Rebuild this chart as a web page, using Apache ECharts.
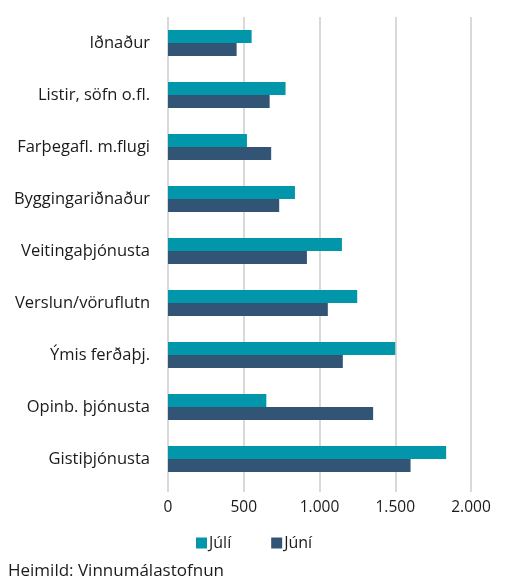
<!DOCTYPE html>
<html>
<head>
<meta charset="utf-8">
<script src="https://cdn.jsdelivr.net/npm/echarts@6/dist/echarts.min.js"></script>
<style>
  html, body { margin: 0; padding: 0; background: #fff; }
  #chart { width: 507px; height: 583px; }
</style>
</head>
<body>
<div id="chart"></div>
<script>
// flokkar, ofan frá og niður
var categories = ['Iðnaður', 'Listir, söfn o.fl.', 'Farþegafl. m.flugi', 'Byggingariðnaður',
  'Veitingaþjónusta', 'Verslun/vöruflutn', 'Ýmis ferðaþj.', 'Opinb. þjónusta', 'Gistiþjónusta'];
var juli = [552, 776, 521, 838, 1148, 1249, 1500, 649, 1836];
var juni = [453, 671, 681, 734, 917, 1055, 1154, 1354, 1601];
var xTicks = [0, 500, 1000, 1500, 2000];

var font = 'Open Sans';
var chart = echarts.init(document.getElementById('chart'));

function fmt(v) {
  return String(v).replace(/\B(?=(\d{3})+(?!\d))/g, '.');
}

var option = {
  animation: false,
  textStyle: { fontFamily: font },
  grid: { left: 168, right: 36, top: 17, bottom: 98 },
  legend: {
    data: ['Júlí', 'Júní'],
    left: 191, top: 530,
    itemWidth: 11, itemHeight: 11, itemGap: 40,
    icon: 'rect',
    textStyle: { fontSize: 16, color: '#1a1a1a', padding: [0, 0, 0, -3] }
  },
  xAxis: {
    type: 'value',
    min: xTicks[0], max: xTicks[xTicks.length - 1], interval: 500,
    axisLine: { show: false },
    axisTick: { show: true, length: 7, lineStyle: { color: '#d9d9d9', width: 2 } },
    splitLine: { lineStyle: { color: '#d9d9d9', width: 2 } },
    axisLabel: { fontSize: 15.5, color: '#1a1a1a', margin: 15, formatter: fmt }
  },
  yAxis: {
    type: 'category',
    inverse: true,
    data: categories,
    axisLine: { show: false },
    axisTick: { show: false },
    axisLabel: { fontSize: 16.5, color: '#1a1a1a', margin: 18 }
  },
  series: [
    {
      name: 'Júlí', type: 'bar', data: juli,
      barWidth: 13, barGap: '0%',
      itemStyle: { color: '#0196a9' }
    },
    {
      name: 'Júní', type: 'bar', data: juni,
      barWidth: 13,
      itemStyle: { color: '#325576' }
    }
  ],
  graphic: [{
    type: 'text', left: 8, top: 563,
    style: { text: 'Heimild: Vinnumálastofnun', font: '17px "' + font + '"', fill: '#1a1a1a' }
  }]
};
chart.setOption(option);
</script>
</body>
</html>
